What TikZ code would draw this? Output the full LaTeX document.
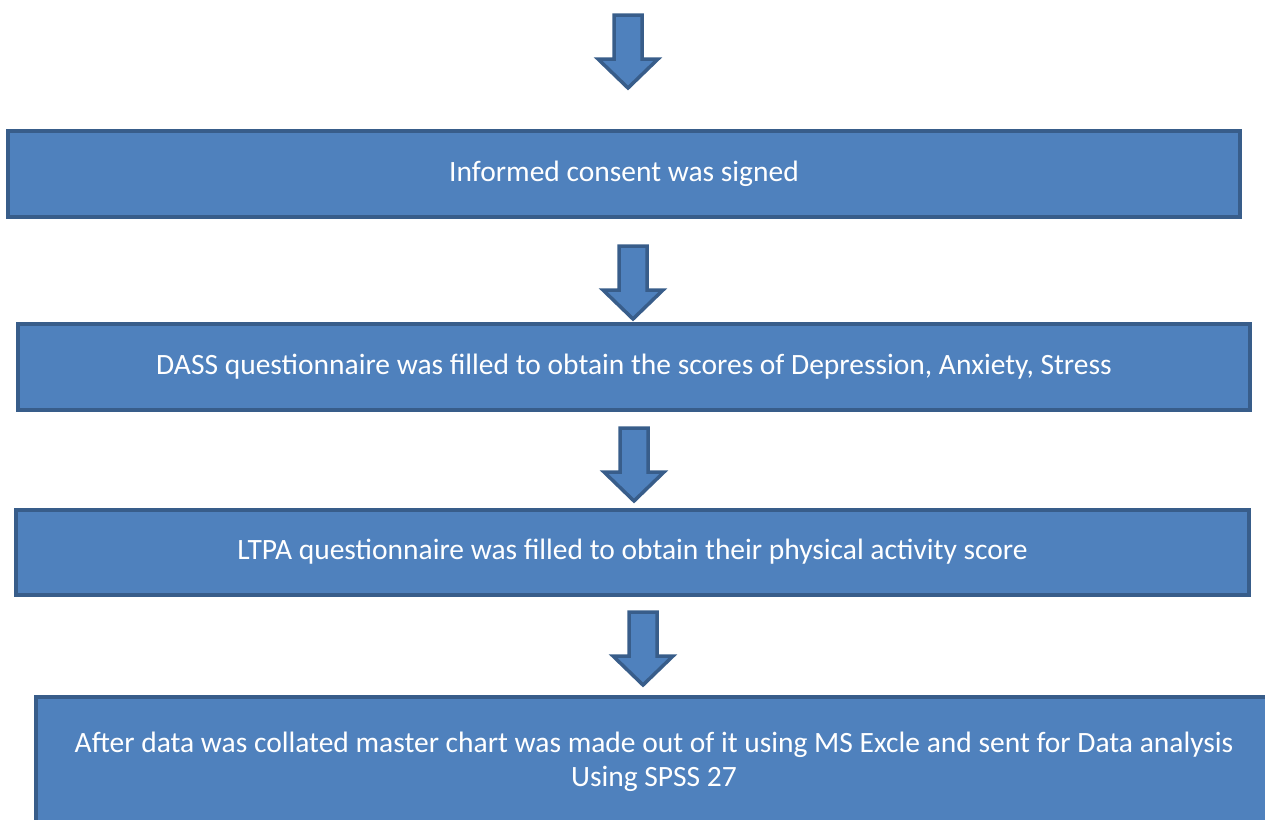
\documentclass[tikz,border=0pt]{standalone}
\usepackage{fontspec}
\setmainfont{Carlito}
\usepackage{xcolor}
\definecolor{boxblue}{HTML}{4F81BD}
\definecolor{boxedge}{HTML}{385D8A}

\begin{document}
\begin{tikzpicture}[x=1pt,y=-1pt,
	stepbox/.style={draw=boxedge,fill=boxblue,line width=4pt,text=white,
		inner sep=0pt,font=\fontsize{29.5}{34}\selectfont,align=center},
	downarrow/.pic={
		\draw[draw=boxedge,fill=boxblue,line width=3.5pt,line join=miter]
		(-14,0) -- (14,0) -- (14,44) -- (30,44) -- (0,73) -- (-30,44) -- (-14,44) -- cycle;
	}]
	\useasboundingbox (0,0) rectangle (1265,819);
	\clip (0,0) rectangle (1265,819);
	% the boxes, top to bottom
	\node[stepbox,minimum width=1232pt,minimum height=86pt] (consent) at (624,174) {Informed consent was signed};
	\node[stepbox,minimum width=1232pt,minimum height=86pt] (dass) at (634,367) {DASS questionnaire was filled to obtain the scores of Depression, Anxiety, Stress};
	\node[stepbox,minimum width=1233pt,minimum height=85pt] (ltpa) at (632.5,552) {LTPA questionnaire was filled to obtain their physical activity score};
	\node[stepbox,minimum width=1236pt,minimum height=130pt] (analysis) at (654,762) {After data was collated master chart was made out of it using MS Excle and sent for Data analysis\\Using SPSS 27};
	% block arrows between them
	\pic at (628,15) {downarrow};
	\pic at (633,246) {downarrow};
	\pic at (634,428) {downarrow};
	\pic at (643,612) {downarrow};
\end{tikzpicture}
\end{document}
